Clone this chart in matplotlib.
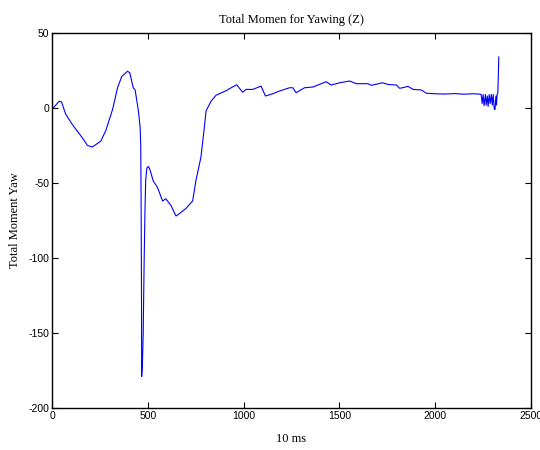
import matplotlib
matplotlib.use("Agg")
import matplotlib.pyplot as plt

plt.rcParams['axes.unicode_minus'] = False

x_vals = [0, 10, 37, 50, 71, 106, 159, 185, 211, 228, 255, 281, 316, 342, 364, 394, 406,
          424, 434, 451, 460, 463, 465, 467, 468, 472, 476, 480, 485, 489, 495, 503, 511,
          528, 551, 577, 594, 621, 647, 664, 699, 734, 751, 777, 795, 804, 830, 856, 908,
          935, 964, 995, 1013, 1048, 1091, 1114, 1152, 1187, 1240, 1257, 1274, 1318, 1362,
          1431, 1457, 1501, 1553, 1588, 1649, 1667, 1724, 1754, 1797, 1815, 1858, 1885,
          1928, 1954, 2000, 2050, 2100, 2150, 2200, 2235,
          2240, 2245, 2250, 2255, 2262, 2266, 2272, 2276, 2282, 2287, 2293, 2298, 2303,
          2308, 2312, 2317, 2320, 2323, 2327, 2332]
y_vals = [0, 0.5, 4.5, 4, -4, -11, -20, -25, -26, -24.5, -22, -15, -1, 13.5, 21, 24.5, 23.5,
          13.5, 12, -2, -13, -24, -60, -120, -179, -170, -150, -110, -70, -48, -40, -39, -41,
          -48.5, -53, -62, -60.5, -65, -72, -70.5, -67, -62, -48.5, -33, -13, -2, 4.5, 8.5, 11.5,
          13.5, 15.5, 10.5, 12.4, 12.4, 14.6, 8, 9.5, 11.3, 13.5, 13.5, 10.2, 13.5, 14,
          17.5, 15.3, 16.8, 18, 16.2, 16.2, 15.1, 16.8, 15.7, 15.3, 13.1, 14.4, 12.4,
          12, 9.8, 9.5, 9.3, 9.6, 9.2, 9.5, 9.2,
          9, 3, 9, 1.5, 9, 2, 8, 1, 9, 3, 9, 2, 9,
          -0.5, -1, 8, 2, 9, 10, 34]

x_ticks = [0, 500, 1000, 1500, 2000, 2500]
y_ticks = [-200, -150, -100, -50, 0, 50]

fig = plt.figure(figsize=(5.4, 4.5), dpi=100)
ax = fig.add_axes([52/540, 1-408/450, (531-52)/540, (408-33)/450])
ax.plot(x_vals, y_vals, color=(0, 0, 1), linewidth=0.8)
ax.set_xlim(0, 2500)
ax.set_ylim(-200, 50)
ax.set_xticks(x_ticks)
ax.set_yticks(y_ticks)
ax.tick_params(direction='in', top=True, right=True, length=4, width=0.8,
               labelsize=7.5, pad=2)
for lab in ax.get_xticklabels() + ax.get_yticklabels():
    lab.set_family('Liberation Sans')
for s in ax.spines.values():
    s.set_linewidth(1.0)
ax.set_title('Total Momen for Yawing (Z)', family='Liberation Serif', fontsize=9, pad=7)
ax.set_xlabel('10 ms', family='Liberation Serif', fontsize=9, labelpad=9)
ax.set_ylabel('Total Moment Yaw', family='Liberation Serif', fontsize=9, labelpad=5)
fig.savefig('out.png', dpi=100)
